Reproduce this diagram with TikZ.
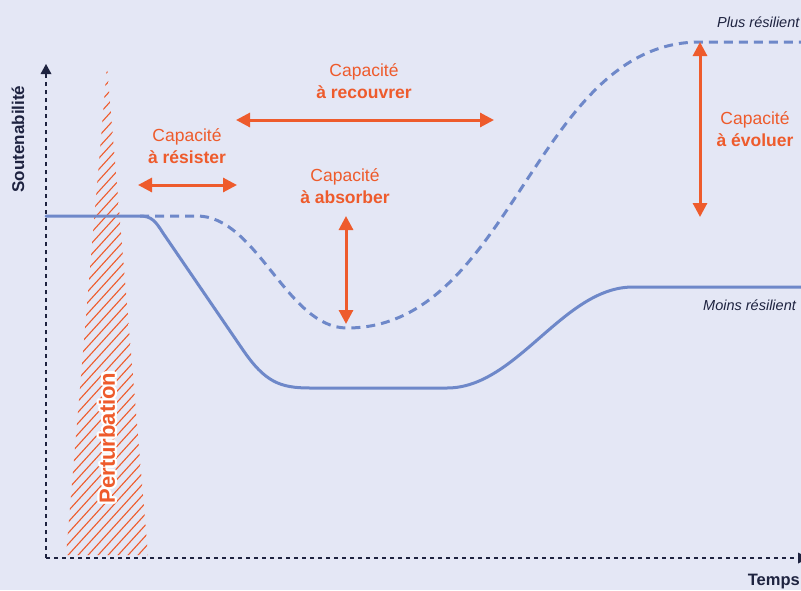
\documentclass[tikz,border=0pt]{standalone}
\usepackage{fontspec}
\setmainfont{Liberation Sans}
\usetikzlibrary{arrows.meta}
\definecolor{bgcol}{HTML}{E4E7F5}
\definecolor{curve}{HTML}{6E88C9}
\definecolor{accent}{HTML}{EE5B2C}
\definecolor{ink}{HTML}{1E2340}

\begin{document}
\begin{tikzpicture}[x=1pt,y=-1pt,
  axisline/.style={ink,line width=1.8pt,dash pattern=on 4pt off 4pt},
  capline/.style={accent,line width=3pt,
    {Triangle[length=14pt,width=14pt]}-{Triangle[length=14pt,width=14pt]}},
  caplabel/.style={accent,align=center,inner sep=0pt,
    font=\fontsize{17.5}{22}\selectfont},
  curveline/.style={curve,line width=3pt,line cap=round},
  curvedash/.style={curve,line width=3pt,dash pattern=on 9pt off 6pt},
  sidelabel/.style={ink,inner sep=0pt,font=\fontsize{14.5}{16}\selectfont\itshape},
  axislabel/.style={ink,inner sep=0pt,font=\fontsize{17}{18}\selectfont\bfseries},
  hatch/.style={accent,line width=1.1pt},
  pertlabel/.style={rotate=90,inner sep=0pt,font=\fontsize{22}{22}\selectfont\bfseries}
]
\clip (0,0) rectangle (801,590);
\fill[bgcol] (0,0) rectangle (801,590);

% axes
\coordinate (origin) at (46,558);
\coordinate (ytop) at (46,64);
\coordinate (xend) at (809,558);
\draw[axisline] (origin) -- (46,74);
\fill[ink] (ytop) -- (40.5,74) -- (51.5,74) -- cycle;
\draw[axisline] (origin) -- (797,558);
\fill[ink] (xend) -- (798,552.5) -- (798,563.5) -- cycle;
\node[axislabel,rotate=90] (yname) at (18,139) {Soutenabilité};
\node[axislabel,anchor=base east,font=\fontsize{16.5}{18}\selectfont\bfseries] (xname) at (800,585) {Temps};

% disturbance: hatched triangle
\begin{scope}
  \clip (107,66) -- (66,555) -- (148,555) -- cycle;
  \foreach \k in {0,...,60}
    \draw[hatch] (40,80+11*\k) -- ++(120,-132);
\end{scope}
\foreach \a in {0,30,...,330}
  \path[shift={(\a:2.2pt)}] (107,438) node[pertlabel,white] {Perturbation};
\node[pertlabel,accent] (pert) at (107,438) {Perturbation};

% resilient trajectory (dashed)
\draw[curvedash] (140,216) -- (197,216)
  .. controls (257,216) and (287,328) .. (347,328)
  .. controls (512,328) and (535,42) .. (700,42) -- (801,42);

% less resilient trajectory (solid)
\draw[curveline] (46,216) -- (140,216)
  .. controls (152,216) and (156,222) .. (163,233)
  -- (243,350)
  .. controls (265,382) and (280,388) .. (310,388)
  -- (447,388)
  .. controls (517,388) and (563,287) .. (633,287) -- (801,287);

\node[sidelabel,anchor=base west] (plus) at (717,27) {Plus résilient};
\node[sidelabel,anchor=base west] (moins) at (703,310) {Moins résilient};

% capacities
\coordinate (res-a) at (138,185);
\coordinate (res-b) at (237,185);
\coordinate (rec-a) at (236,120);
\coordinate (rec-b) at (494,120);
\coordinate (abs-a) at (346,216);
\coordinate (abs-b) at (346,324);
\coordinate (evo-a) at (700,42);
\coordinate (evo-b) at (700,217);
\draw[capline] (res-a) -- (res-b);
\draw[capline] (rec-a) -- (rec-b);
\draw[capline] (abs-a) -- (abs-b);
\draw[capline] (evo-a) -- (evo-b);

\node[caplabel] (l-res) at (187,146) {Capacité\\\textbf{à résister}};
\node[caplabel] (l-rec) at (364,81) {Capacité\\\textbf{à recouvrer}};
\node[caplabel] (l-abs) at (345,186) {Capacité\\\textbf{à absorber}};
\node[caplabel] (l-evo) at (755,129) {Capacité\\\textbf{à évoluer}};
\end{tikzpicture}
\end{document}
